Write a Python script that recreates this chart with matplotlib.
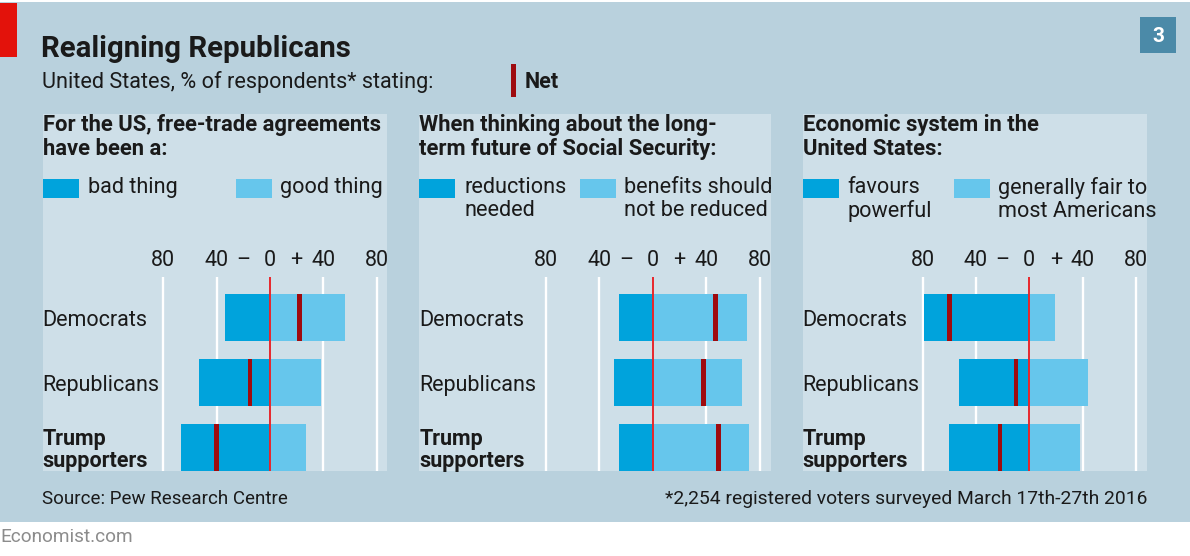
import numpy as np
import matplotlib
matplotlib.use("Agg")
import matplotlib.pyplot as plt
import matplotlib.patches as patches

plt.rcParams['font.family'] = ['Roboto', 'DejaVu Sans']

############################### Données #################################
groups = ['Democrats', 'Republicans', 'Trump\nsupporters']

trade_bad = [34, 53, 67]
trade_good = [56, 38, 27]
trade_net = [22, -15, -40]

ss_reduce = [25, 29, 25]
ss_keep = [71, 67, 72]
ss_net = [47, 38, 49]

eco_powerful = [79, 53, 60]
eco_fair = [19, 44, 38]
eco_net = [-60, -10, -22]

tick_values = [-80, -40, 0, 40, 80]
tick_labels = ['80', '40', '0', '40', '80']

panel_titles = ['For the US, free-trade agreements\nhave been a:',
                'When thinking about the long-\nterm future of Social Security:',
                'Economic system in the\nUnited States:']
legend_left = ['bad thing', 'reductions\nneeded', 'favours\npowerful']
legend_right = ['good thing', 'benefits should\nnot be reduced', 'generally fair to\nmost Americans']

left_values = [trade_bad, ss_reduce, eco_powerful]
right_values = [trade_good, ss_keep, eco_fair]
net_values = [trade_net, ss_net, eco_net]
#########################################################################

# couleurs
BG = '#b9d1dd'
PANEL = '#cedfe8'
DARK = '#00a3dc'
LIGHT = '#66c6ec'
NETC = '#9e0b0f'
ZERO = '#e8262b'
TXT = '#1a1a1a'

W, H = 1190, 556
fig = plt.figure(figsize=(W / 100, H / 100), dpi=100)
fig.patch.set_facecolor('white')


def fx(x):
    return x / W


def fy(y):
    return 1 - y / H


def rect_px(x0, y0, x1, y1, color, z=1):
    # rectangle en pixels (origine en haut a gauche)
    r = patches.Rectangle((fx(x0), fy(y1)), fx(x1) - fx(x0), fy(y0) - fy(y1),
                          transform=fig.transFigure, facecolor=color, edgecolor='none', zorder=z)
    fig.patches.append(r)


# fond (sous les axes)
rect_px(0, 2, W, 522, BG, z=-10)
rect_px(0, 3, 17, 57, '#e3120b', z=-9)
rect_px(1140, 17, 1176, 53, '#4b8aa8', z=-9)
fig.text(fx(1158), fy(36), '3', color='white', fontsize=15, fontweight='bold', ha='center', va='center')

# titre
fig.text(fx(41), fy(57), 'Realigning Republicans', fontsize=21.2, fontweight='bold', color=TXT, va='baseline')
fig.text(fx(42), fy(88), 'United States, % of respondents* stating:', fontsize=15.6, color=TXT, va='baseline')
rect_px(511, 64, 516, 97, NETC)
fig.text(fx(525), fy(88), 'Net', fontsize=15.5, fontweight='bold', color=TXT, va='baseline')

# pied
fig.text(fx(42), fy(504), 'Source: Pew Research Centre', fontsize=13.5, color=TXT, va='baseline')
fig.text(fx(1147), fy(504), '*2,254 registered voters surveyed March 17th-27th 2016', fontsize=13.9,
         color=TXT, va='baseline', ha='right')
fig.text(fx(0), fy(542), 'Economist.com', fontsize=13.7, color='#8c8c8c', va='baseline')

###################################### Panneaux ######################################
panel_left = [42.7, 419.3, 802.7]
panel_right = [386.7, 770.7, 1146.7]
zero_px = [270, 652.7, 1029.3]
swatch2_off = [193.3, 160.7, 151.3]
scale = 1.335           # pixels par point de pourcentage
top_px, bot_px = 114, 470.7
row0_px, pitch = 317.8, 64.7


def u(py):
    return (py - row0_px) / pitch


for k in range(3):
    L, R, Z = panel_left[k], panel_right[k], zero_px[k]
    ax = fig.add_axes([fx(L), fy(bot_px), fx(R) - fx(L), (bot_px - top_px) / H])
    ax.set_facecolor(PANEL)
    ax.set_xlim((L - Z) / scale, (R - Z) / scale)
    ax.set_ylim(u(bot_px), u(top_px))
    for s in ax.spines.values():
        s.set_visible(False)
    ax.set_xticks([])
    ax.set_yticks([])

    # grille et graduations
    ax.vlines([v for v in tick_values if v != 0], u(276.7), u(bot_px), color='white', lw=1.7, zorder=1)
    for v, lab in zip(tick_values, tick_labels):
        ax.text(v, u(266), lab, ha='center', va='baseline', fontsize=15.5, color=TXT)
    ax.text(-20, u(266), '–', ha='center', va='baseline', fontsize=15.5, color=TXT)
    ax.text(20, u(266), '+', ha='center', va='baseline', fontsize=15.5, color=TXT)

    y = np.arange(len(groups))
    lv = np.array(left_values[k])
    rv = np.array(right_values[k])
    nv = np.array(net_values[k])
    ax.barh(y, lv, left=-lv, height=0.727, color=DARK, zorder=2)
    ax.barh(y, rv, left=0, height=0.727, color=LIGHT, zorder=2)
    ax.barh(y, 3.6, left=nv - 1.8, height=0.727, color=NETC, zorder=3)
    ax.vlines(0, u(276.7), u(bot_px), color=ZERO, lw=1.4, zorder=4)

    # libelles des groupes
    for i, g in enumerate(groups):
        ax.text(0.0, i + 0.04, g, transform=ax.get_yaxis_transform(), ha='left', va='center',
                fontsize=15.5, color=TXT, fontweight='bold' if i == 2 else 'normal', linespacing=1.0)

    # titre du panneau
    fig.text(fx(L), fy(114), panel_titles[k], fontsize=15.8, fontweight='bold', color=TXT,
             va='top', ha='left', linespacing=1.1)

    # legende
    rect_px(L, 179, L + 36, 198, DARK)
    rect_px(L + swatch2_off[k], 179, L + swatch2_off[k] + 36, 198, LIGHT)
    fig.text(fx(L + 45), fy(177), legend_left[k], fontsize=15.6, color=TXT, va='top', linespacing=1.12)
    fig.text(fx(L + swatch2_off[k] + 44), fy(177), legend_right[k], fontsize=15.6, color=TXT,
             va='top', linespacing=1.12)

######################################################################################

fig.savefig('out.png', dpi=100)
